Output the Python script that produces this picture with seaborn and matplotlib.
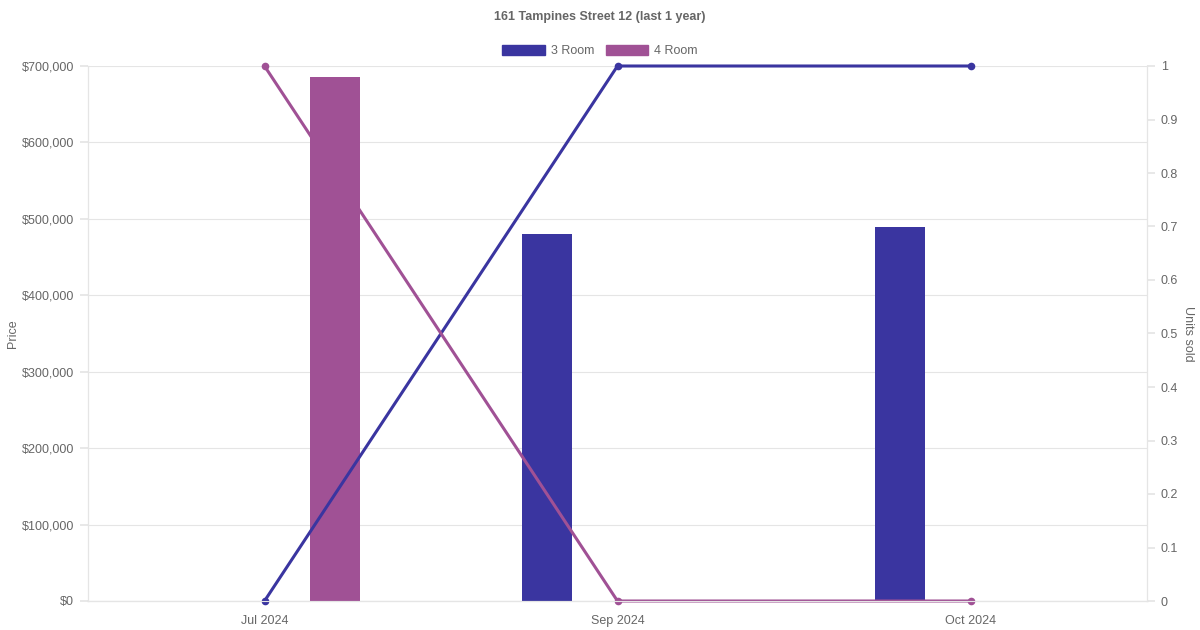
import matplotlib
matplotlib.use("Agg")
import matplotlib.pyplot as plt
import matplotlib.ticker as mticker
from matplotlib.patches import Patch
import seaborn as sns
import pandas as pd

months = ["Jul 2024", "Sep 2024", "Oct 2024"]
flat_types = ["3 Room", "4 Room"]
price_3room = [None, 480000, 490000]
price_4room = [685000, None, None]
units_3room = [0, 1, 1]
units_4room = [1, 0, 0]
colors = {"3 Room": "#3a35a0", "4 Room": "#a05195"}

TXT = "#666666"
GRID = "#e5e5e5"

# long-form tables for seaborn
rows = []
for i, m in enumerate(months):
    for ft, p, u in (("3 Room", price_3room[i], units_3room[i]),
                     ("4 Room", price_4room[i], units_4room[i])):
        rows.append({"month": m, "pos": i, "type": ft, "price": p, "units": u})
df = pd.DataFrame(rows)
df_bars = df.dropna(subset=["price"])

sns.set_theme(style="white")
plt.rcParams["font.family"] = ["Liberation Sans", "DejaVu Sans"]

fig = plt.figure(figsize=(12, 6.3), dpi=100)
ax = fig.add_axes([88 / 1200, 1 - 601 / 630, (1147 - 88) / 1200, (601 - 66) / 630])

# price bars (left axis)
sns.barplot(data=df_bars, x="month", y="price", hue="type", order=months,
            hue_order=flat_types, palette=colors, dodge=True, gap=0.65,
            errorbar=None, saturation=1, linewidth=0, ax=ax, legend=False)

# units sold lines (right axis), drawn over the bars
ax2 = ax.twinx()
sns.lineplot(data=df, x="pos", y="units", hue="type", hue_order=flat_types,
             palette=colors, marker="o", markersize=5.5, markeredgewidth=0,
             linewidth=2.2, ax=ax2, legend=False)
for ln in ax2.lines:
    ln.set_clip_on(False)

ax.set_xlim(-0.5, len(months) - 0.5)
ax.set_ylim(0, 700000)
ax.yaxis.set_major_locator(mticker.MultipleLocator(100000))
ax.yaxis.set_major_formatter(mticker.FuncFormatter(lambda v, _: f"${v:,.0f}"))
ax2.set_ylim(0, 1)
ax2.yaxis.set_major_locator(mticker.MultipleLocator(0.1))
ax2.yaxis.set_major_formatter(mticker.FuncFormatter(lambda v, _: f"{v:g}"))

ax.grid(axis="y", color=GRID, linewidth=0.8)
ax.grid(axis="x", visible=False)
ax2.grid(False)
ax.set_axisbelow(True)

for a in (ax, ax2):
    for side, sp in a.spines.items():
        sp.set_color(GRID)
        sp.set_linewidth(0.8)
    a.spines["top"].set_visible(False)
ax.spines["bottom"].set_color("#cccccc")

ax.tick_params(axis="y", length=6, color=GRID, labelcolor=TXT, labelsize=9, pad=4)
ax.tick_params(axis="x", length=6, color=GRID, labelcolor=TXT, labelsize=9, pad=4)
ax2.tick_params(axis="y", length=6, color=GRID, labelcolor=TXT, labelsize=9, pad=4)

ax.set_xlabel("")
ax.set_ylabel("Price", color=TXT, fontsize=9, labelpad=2)
ax2.set_ylabel("Units sold", color=TXT, fontsize=9, rotation=-90, labelpad=11)

fig.suptitle("161 Tampines Street 12 (last 1 year)", y=1 - 17 / 630, va="center",
             fontsize=9, fontweight="bold", color=TXT)

handles = [Patch(facecolor=colors[t], edgecolor=colors[t], label=t) for t in flat_types]
fig.legend(handles=handles, loc="center", bbox_to_anchor=(0.5, 1 - 51 / 630),
           ncol=2, frameon=False, fontsize=9, labelcolor=TXT,
           handlelength=3.4, handleheight=0.9, handletextpad=0.5, columnspacing=0.9)

fig.savefig("out.png", dpi=100)
